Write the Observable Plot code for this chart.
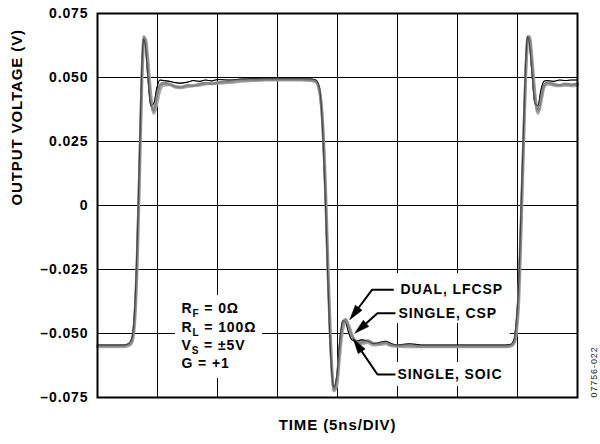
<!DOCTYPE html>
<html><head><meta charset="utf-8">
<script src="https://cdn.jsdelivr.net/npm/d3@7"></script>
<script src="https://cdn.jsdelivr.net/npm/@observablehq/plot@0.6"></script>
<style>
body{margin:0;background:#fff}
#chart svg{display:block}
#chart text{letter-spacing:0.9px}
</style>
</head><body><div id="chart"></div>
<script>
// ---- data ----
const timeNs = [0,1,2,2.4,2.7,2.9,3.1,3.3,3.5,3.7,3.85,4.0,4.2,4.45,4.7,4.95,5.2,5.5,6,6.5,7,7.5,8,8.5,9,9.5,10,11,12,13,14,15,16,17,17.8,18.2,18.5,18.75,19.0,19.2,19.45,19.7,19.95,20.2,20.45,20.7,20.95,21.2,21.5,22,22.5,23,23.5,24,24.5,25,26,27,28,29,30,31,32,33,34,34.4,34.7,34.9,35.1,35.3,35.5,35.7,35.85,36.0,36.2,36.45,36.7,36.95,37.2,37.5,38,38.5,39,39.5,40];
const singleCsp = [-0.0545,-0.0545,-0.0545,-0.0543,-0.0535,-0.051,-0.040,-0.015,0.020,0.055,0.065,0.062,0.050,0.039,0.040,0.046,0.049,0.0488,0.0485,0.048,0.0478,0.0482,0.0488,0.0485,0.049,0.0487,0.0492,0.049,0.0494,0.0495,0.0495,0.0495,0.0495,0.0495,0.0494,0.049,0.046,0.030,0.000,-0.030,-0.060,-0.071,-0.066,-0.052,-0.045,-0.046,-0.050,-0.0525,-0.053,-0.0525,-0.053,-0.054,-0.0535,-0.053,-0.054,-0.0545,-0.054,-0.0545,-0.0545,-0.0545,-0.0545,-0.0545,-0.0545,-0.0545,-0.0545,-0.0543,-0.0525,-0.045,-0.030,0.000,0.030,0.058,0.066,0.063,0.052,0.040,0.039,0.045,0.0485,0.0488,0.0485,0.049,0.0488,0.049,0.049];
const dualLfcsp = [-0.0548,-0.0548,-0.0548,-0.0546,-0.054,-0.052,-0.043,-0.020,0.015,0.052,0.066,0.064,0.053,0.040,0.037,0.043,0.047,0.0478,0.0475,0.0465,0.0463,0.047,0.0468,0.0475,0.0478,0.0475,0.048,0.0485,0.049,0.049,0.0492,0.0492,0.0492,0.0492,0.049,0.0485,0.045,0.032,0.004,-0.026,-0.058,-0.072,-0.068,-0.055,-0.0455,-0.0445,-0.048,-0.051,-0.0528,-0.0535,-0.0528,-0.0538,-0.054,-0.0535,-0.0545,-0.0548,-0.0545,-0.055,-0.055,-0.055,-0.055,-0.055,-0.055,-0.055,-0.055,-0.0548,-0.0535,-0.048,-0.034,-0.005,0.026,0.055,0.066,0.065,0.055,0.042,0.037,0.042,0.047,0.048,0.0475,0.047,0.0475,0.0472,0.0475];
const singleSoic = [-0.0552,-0.0552,-0.0552,-0.055,-0.0545,-0.053,-0.046,-0.025,0.010,0.048,0.063,0.065,0.057,0.043,0.036,0.040,0.045,0.047,0.0472,0.0462,0.046,0.0465,0.0468,0.047,0.0475,0.0478,0.0478,0.048,0.0485,0.0488,0.049,0.049,0.049,0.049,0.0488,0.0482,0.0445,0.034,0.008,-0.022,-0.055,-0.0725,-0.070,-0.058,-0.048,-0.0455,-0.047,-0.0505,-0.053,-0.054,-0.0535,-0.0545,-0.0543,-0.054,-0.0548,-0.055,-0.0552,-0.0552,-0.0552,-0.0552,-0.0552,-0.0552,-0.0552,-0.0552,-0.0552,-0.055,-0.054,-0.050,-0.038,-0.010,0.022,0.052,0.064,0.066,0.058,0.044,0.036,0.040,0.046,0.0475,0.047,0.0468,0.047,0.0468,0.047];

const seriesNames = ["DUAL, LFCSP", "SINGLE, CSP", "SINGLE, SOIC"];
const xDomain = [0, 40];
const yDomain = [-0.075, 0.075];
const xGridValues = [0, 5, 10, 15, 20, 25, 30, 35, 40];
const yTickValues = [-0.075, -0.05, -0.025, 0, 0.025, 0.05, 0.075];
const yTickLabels = ["\u20130.075", "\u20130.050", "\u20130.025", "0", "0.025", "0.050", "0.075"];
const xLabel = "TIME (5ns/DIV)";
const yLabel = "OUTPUT VOLTAGE (V)";
const figureCode = "07756-022";

// test conditions block
const conditionLines = ["R_F = 0\u03A9", "R_L = 100\u03A9", "V_S = \u00B15V", "G = +1"];
const conditionT = [7.0, 7.0, 7.0, 7.0];
const conditionV = [-0.0402, -0.0475, -0.0547, -0.0619];

// callouts (label anchor, leader start, corner, tip) in data units
const calloutT = [25.25, 25.08, 25.0];
const calloutV = [-0.0328, -0.0422, -0.0660];
const leaderStartT = [24.69, 24.83, 24.83];
const leaderCornerT = [22.89, 23.33, 23.33];
const leaderCornerV = [-0.0329, -0.0421, -0.0660];
const leaderTipT = [21.02, 21.44, 21.31];
const leaderTipV = [-0.0446, -0.0499, -0.0521];

// white knock-out boxes behind the annotation texts (data units)
const knockT1 = [6.5, 24.5, 24.5];
const knockT2 = [13.75, 34.4, 34.6];
const knockV1 = [-0.0352, -0.0266, -0.0613];
const knockV2 = [-0.0676, -0.0461, -0.0707];

// ---- layout ----
const W = 600, H = 444, ML = 97, MR = 23, MT = 13, MB = 47;
const FONT = "'Liberation Sans', Arial, Helvetica, sans-serif";

const traces = [
  {name: seriesNames[1], values: singleCsp, stroke: "#000000", width: 1.1},
  {name: seriesNames[2], values: singleSoic, stroke: "#a6a6a6", width: 3},
  {name: seriesNames[0], values: dualLfcsp, stroke: "#858585", width: 2.6}
];
const rowsOf = v => timeNs.map((t, i) => ({t, v: v[i]}));

const sx = Plot.scale({x: {domain: xDomain, range: [ML, W - MR]}});
const sy = Plot.scale({y: {domain: yDomain, range: [H - MB, MT]}});

const leaderRows = [], headRows = [];
seriesNames.forEach((name, i) => {
  const cx = sx.apply(leaderCornerT[i]), cy = sy.apply(leaderCornerV[i]);
  const px = sx.apply(leaderTipT[i]), py = sy.apply(leaderTipV[i]);
  const len = Math.hypot(px - cx, py - cy);
  const ux = (px - cx) / len, uy = (py - cy) / len;
  const L = 15, w = 4.2;
  const bx = px - ux * L, by = py - uy * L;
  const nx = -uy, ny = ux;
  leaderRows.push({id: i, t: leaderStartT[i], v: leaderCornerV[i]});
  leaderRows.push({id: i, t: leaderCornerT[i], v: leaderCornerV[i]});
  leaderRows.push({id: i, t: sx.invert(bx + ux * 2), v: sy.invert(by + uy * 2)});
  [[px, py], [bx + nx * w, by + ny * w], [bx - nx * w, by - ny * w], [px, py]].forEach(([X, Y]) =>
    headRows.push({id: i, t: sx.invert(X), v: sy.invert(Y)}));
});

const conditions = conditionLines.map((s, i) => ({s, t: conditionT[i], v: conditionV[i]}));
const callouts = seriesNames.map((s, i) => ({s, t: calloutT[i], v: calloutV[i]}));
const knockouts = knockT1.map((t1, i) => ({t1, t2: knockT2[i], v1: knockV1[i], v2: knockV2[i]}));
const tickLabelMap = new Map(yTickValues.map((d, i) => [d, yTickLabels[i]]));

const svg = Plot.plot({
  width: W, height: H,
  marginLeft: ML, marginRight: MR, marginTop: MT, marginBottom: MB,
  style: {fontFamily: FONT, fontWeight: "bold", color: "black", background: "white"},
  x: {domain: xDomain, axis: null},
  y: {domain: yDomain, axis: null},
  marks: [
    Plot.ruleY(yTickValues, {stroke: "black", strokeWidth: 1}),
    Plot.ruleY([-0.05], {x1: 20.9, x2: 34.4, stroke: "white", strokeWidth: 3}),
    Plot.ruleX(xGridValues, {stroke: "black", strokeWidth: 1}),
    Plot.rect(knockouts, {x1: "t1", x2: "t2", y1: "v1", y2: "v2", fill: "white"}),
    Plot.text(conditions, {x: "t", y: "v", text: "s", textAnchor: "start", fontSize: 14, fill: "black"}),
    Plot.text(callouts, {x: "t", y: "v", text: "s", textAnchor: "start", fontSize: 14, fill: "black"}),
    ...traces.map(tr => Plot.line(rowsOf(tr.values), {
      x: "t", y: "v", curve: "monotone-x", stroke: tr.stroke, strokeWidth: tr.width
    })),
    Plot.line(rowsOf(singleCsp), {x: "t", y: "v", curve: "monotone-x", stroke: "black", strokeWidth: 1, strokeOpacity: 0.55}),
    Plot.line(leaderRows, {x: "t", y: "v", z: "id", stroke: "black", strokeWidth: 2, strokeLinecap: "butt", strokeLinejoin: "miter"}),
    Plot.line(headRows, {x: "t", y: "v", z: "id", fill: "black", stroke: "black", strokeWidth: 0.5}),
    Plot.frame({stroke: "black", strokeWidth: 2}),
    Plot.text(yTickValues, {x: xDomain[0], y: d => d, text: d => tickLabelMap.get(d), textAnchor: "end", dx: -9, fontSize: 14, fill: "black"}),
    Plot.text([xLabel], {frameAnchor: "bottom", dy: 32, text: d => d, fontSize: 15, fill: "black"}),
    Plot.text([yLabel], {frameAnchor: "left", dx: -80, rotate: -90, text: d => d, fontSize: 15, fill: "black"}),
    Plot.text([figureCode], {frameAnchor: "bottom-right", dx: 19, rotate: -90, textAnchor: "start", text: d => d, fontSize: 9, fontWeight: "normal", fill: "#222"})
  ]
});

// subscripts: "R_F" -> R with subscript F
d3.select(svg).selectAll("text").each(function () {
  const s = this.textContent;
  const m = /^(.)_(.)(.*)$/.exec(s);
  if (!m) return;
  const t = d3.select(this);
  t.text(null);
  t.append("tspan").text(m[1]);
  t.append("tspan").attr("dy", 4).attr("font-size", 10).text(m[2]);
  t.append("tspan").attr("dy", -4).text(m[3]);
});

document.getElementById("chart").appendChild(svg);
</script>
</body></html>
